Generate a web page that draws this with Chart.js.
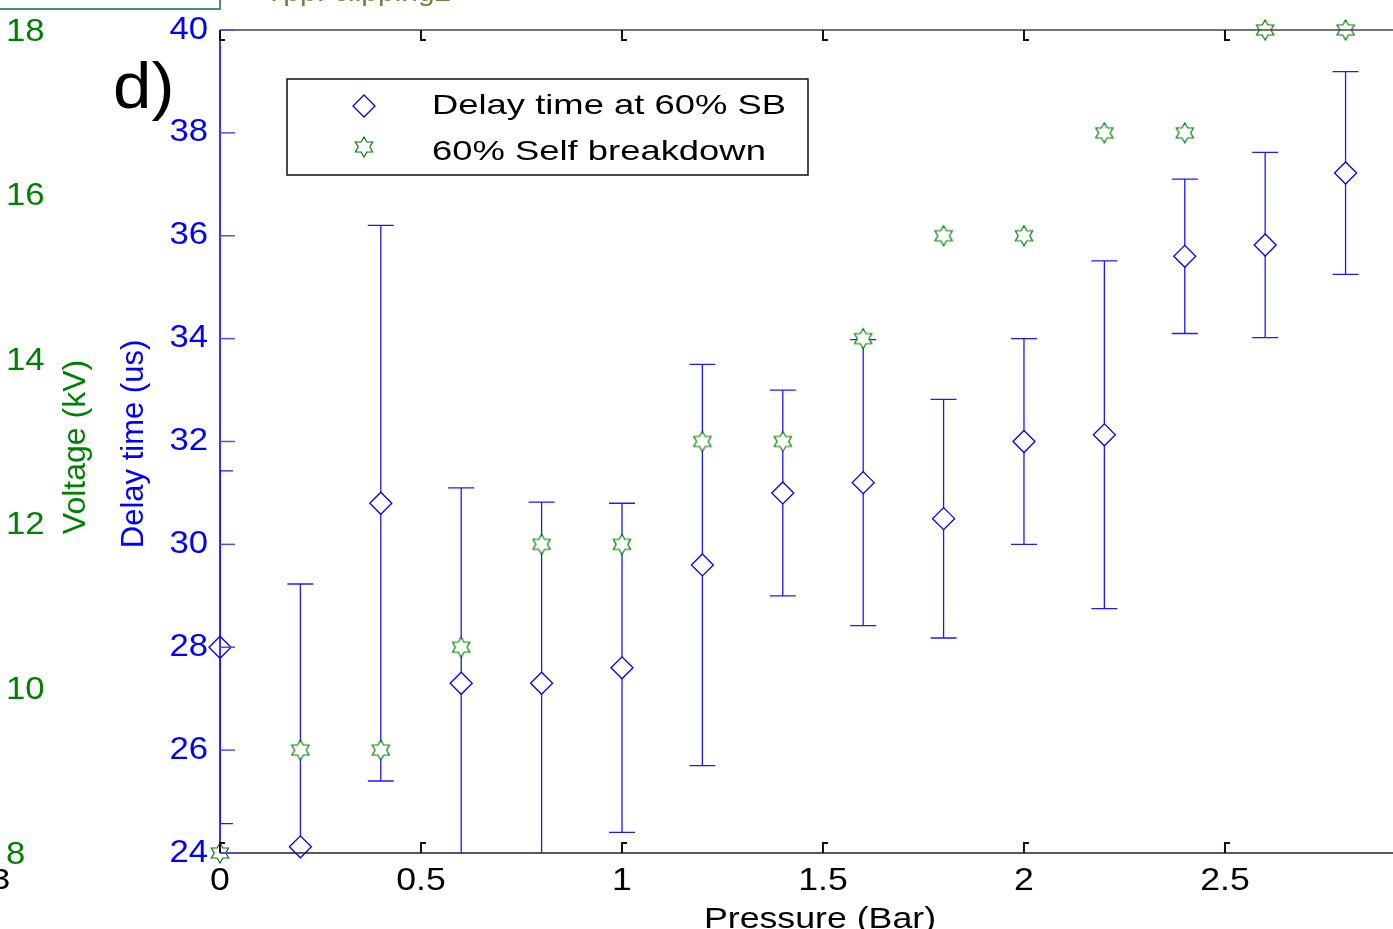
<!DOCTYPE html>
<html>
<head>
<meta charset="utf-8">
<script src="https://cdn.jsdelivr.net/npm/chart.js@4"></script>
<style>
  html, body { margin: 0; padding: 0; background: #fff; overflow: hidden; }
  canvas { display: block; }
</style>
</head>
<body>
<canvas id="graficoRetardo" width="1393" height="929"></canvas>
<script>
// presion (bar) y tiempos de retardo medidos
const pressure = [0, 0.2, 0.4, 0.6, 0.8, 1.0, 1.2, 1.4, 1.6, 1.8, 2.0, 2.2, 2.4, 2.6, 2.8];
const delayTime = [28.0, 24.12, 30.8, 27.3, 27.3, 27.6, 29.6, 31.0, 31.2, 30.5, 32.0, 32.13, 35.6, 35.82, 37.22];
const delayErr = [3.43, 5.11, 5.4, 3.8, 3.52, 3.2, 3.9, 2.0, 2.78, 2.32, 2.0, 3.38, 1.5, 1.8, 1.97];
const selfBreakdown = [24, 26, 26, 28, 30, 30, 32, 32, 34, 36, 36, 38, 38, 40, 40];

const xTicks = [0, 0.5, 1, 1.5, 2, 2.5];
const delayTicks = [24, 26, 28, 30, 32, 34, 36, 38, 40];
const voltTicks = [8, 10, 12, 14, 16, 18];

const AZUL = '#0000ff';
const VERDE = '#008000';
const FUENTE = '"Liberation Sans", Arial, sans-serif';

// hexagrama hueco para la serie de ruptura
function hacerEstrella(color) {
  const c = document.createElement('canvas');
  c.width = 22; c.height = 24;
  const g = c.getContext('2d');
  const R = 10, r = R / Math.sqrt(3);
  g.beginPath();
  for (let i = 0; i < 12; i++) {
    const a = -Math.PI / 2 + i * Math.PI / 6;
    const rad = i % 2 === 0 ? R : r;
    const px = 11 + rad * Math.cos(a), py = 12 + rad * Math.sin(a);
    if (i === 0) g.moveTo(px, py); else g.lineTo(px, py);
  }
  g.closePath();
  g.fillStyle = '#fff';
  g.fill();
  g.strokeStyle = color;
  g.lineWidth = 1.2;
  g.stroke();
  return c;
}
const estrella = hacerEstrella(VERDE);

// texto ensanchado horizontalmente
function texto(ctx, s, x, y, size, color, align, sx, base) {
  ctx.save();
  ctx.font = size + 'px ' + FUENTE;
  ctx.fillStyle = color;
  ctx.textAlign = align || 'left';
  ctx.textBaseline = base || 'middle';
  ctx.translate(x, y);
  ctx.scale(sx || 1, 1);
  ctx.fillText(s, 0, 0);
  ctx.restore();
}

function textoVertical(ctx, s, x, y, size, color) {
  ctx.save();
  ctx.font = size + 'px ' + FUENTE;
  ctx.fillStyle = color;
  ctx.textAlign = 'center';
  ctx.textBaseline = 'middle';
  ctx.translate(x, y);
  ctx.rotate(-Math.PI / 2);
  ctx.fillText(s, 0, 0);
  ctx.restore();
}

const marco = {
  id: 'marco',
  beforeDatasetsDraw(chart) {
    const { ctx, chartArea: a, scales: { x, y } } = chart;
    ctx.save();
    ctx.beginPath();
    ctx.rect(a.left, a.top, a.right - a.left, a.bottom - a.top);
    ctx.clip();
    ctx.strokeStyle = '#1a1aff';
    ctx.lineWidth = 1.3;
    pressure.forEach((p, i) => {
      const px = x.getPixelForValue(p);
      const yHi = y.getPixelForValue(delayTime[i] + delayErr[i]);
      const yLo = y.getPixelForValue(delayTime[i] - delayErr[i]);
      ctx.beginPath();
      ctx.moveTo(px, yHi); ctx.lineTo(px, yLo);
      ctx.moveTo(px - 13, yHi); ctx.lineTo(px + 13, yHi);
      ctx.moveTo(px - 13, yLo); ctx.lineTo(px + 13, yLo);
      ctx.stroke();
    });
    ctx.restore();
  },
  afterDatasetsDraw(chart) {
    const { ctx, chartArea: a, scales: { x, y, v } } = chart;
    ctx.save();

    // bordes superior e inferior
    ctx.lineWidth = 1.6;
    ctx.strokeStyle = '#444';
    ctx.beginPath(); ctx.moveTo(a.left, a.top); ctx.lineTo(a.right, a.top); ctx.stroke();
    ctx.strokeStyle = '#222';
    ctx.beginPath(); ctx.moveTo(a.left, a.bottom); ctx.lineTo(a.right, a.bottom); ctx.stroke();
    // eje del retardo
    ctx.strokeStyle = AZUL;
    ctx.lineWidth = 1.6;
    ctx.beginPath(); ctx.moveTo(a.left, a.top); ctx.lineTo(a.left, a.bottom); ctx.stroke();

    // marcas del eje x hacia dentro
    ctx.strokeStyle = '#111';
    ctx.lineWidth = 2;
    xTicks.forEach(t => {
      const px = x.getPixelForValue(t);
      ctx.beginPath();
      ctx.moveTo(px, a.bottom); ctx.lineTo(px, a.bottom - 10); ctx.lineTo(px + 5, a.bottom - 10);
      ctx.moveTo(px, a.top); ctx.lineTo(px, a.top + 10); ctx.lineTo(px + 5, a.top + 10);
      ctx.stroke();
      texto(ctx, String(t), px, 881, 31, '#000', 'center', 1.15);
    });

    // marcas y etiquetas del retardo
    ctx.strokeStyle = '#4d4dff';
    ctx.lineWidth = 1.5;
    delayTicks.forEach(t => {
      const py = y.getPixelForValue(t);
      ctx.beginPath(); ctx.moveTo(a.left, py); ctx.lineTo(a.left + 15, py); ctx.stroke();
      texto(ctx, String(t), 208, py, 31, AZUL, 'right', 1.12);
    });

    // etiquetas del voltaje
    voltTicks.forEach(t => {
      texto(ctx, String(t), 6, v.getPixelForValue(t) + 2, 31, VERDE, 'left', 1.12);
    });

    // titulos de ejes
    texto(ctx, 'Pressure (Bar)', 820, 928, 30, '#000', 'center', 1.19, 'alphabetic');
    textoVertical(ctx, 'Delay time (us)', 134, 444, 31, AZUL);
    textoVertical(ctx, 'Voltage (kV)', 76, 447, 32, VERDE);

    // etiqueta del panel
    texto(ctx, 'd)', 113, 108, 64, '#000', 'left', 1.08, 'alphabetic');

    // leyenda
    ctx.strokeStyle = '#111';
    ctx.lineWidth = 1.5;
    ctx.strokeRect(287, 79, 521, 96);
    ctx.beginPath();
    ctx.moveTo(364, 95); ctx.lineTo(375, 106); ctx.lineTo(364, 117); ctx.lineTo(353, 106); ctx.closePath();
    ctx.strokeStyle = AZUL; ctx.lineWidth = 1.3; ctx.stroke();
    ctx.drawImage(estrella, 364 - 11, 147 - 12);
    texto(ctx, 'Delay time at 60% SB', 432, 106, 28, '#000', 'left', 1.3);
    texto(ctx, '60% Self breakdown', 432, 152, 28, '#000', 'left', 1.3);

    // restos del panel vecino
    ctx.strokeStyle = '#4f8a8a';
    ctx.lineWidth = 2;
    ctx.strokeRect(-20, -40, 240, 49);
    texto(ctx, 'Tpp: clipping2', 265, 1, 26, '#7d7d3c', 'left', 1.15, 'alphabetic');
    texto(ctx, '3', -9, 881, 30, '#000', 'left', 1.15);

    ctx.restore();
  }
};

new Chart(document.getElementById('graficoRetardo'), {
  type: 'scatter',
  data: {
    datasets: [
      {
        label: 'Delay time at 60% SB',
        data: pressure.map((p, i) => ({ x: p, y: delayTime[i] })),
        pointStyle: 'rectRot',
        pointRadius: 11,
        borderColor: AZUL,
        backgroundColor: '#fff',
        borderWidth: 1.3,
        clip: false
      },
      {
        label: '60% Self breakdown',
        data: pressure.map((p, i) => ({ x: p, y: selfBreakdown[i] })),
        pointStyle: estrella,
        pointRadius: 10,
        borderColor: VERDE,
        backgroundColor: '#fff',
        clip: false
      }
    ]
  },
  options: {
    responsive: false,
    animation: false,
    devicePixelRatio: 1,
    layout: { autoPadding: false, padding: { top: 30, left: 0, right: 0, bottom: 0 } },
    plugins: { legend: { display: false }, tooltip: { enabled: false } },
    scales: {
      x: {
        type: 'linear', position: 'bottom', min: 0, max: 2.918,
        ticks: { display: false, stepSize: 0.5 },
        grid: { display: false }, border: { display: false },
        afterFit: s => { s.height = 76; }
      },
      y: {
        type: 'linear', position: 'left', min: 24, max: 40, weight: 0,
        ticks: { display: false, stepSize: 2 },
        grid: { display: false }, border: { display: false },
        afterFit: s => { s.width = 160; }
      },
      v: {
        type: 'linear', position: 'left', min: 8, max: 18, weight: 1,
        ticks: { display: false, stepSize: 2 },
        grid: { display: false }, border: { display: false },
        afterFit: s => { s.width = 60; }
      }
    }
  },
  plugins: [marco]
});
</script>
</body>
</html>
